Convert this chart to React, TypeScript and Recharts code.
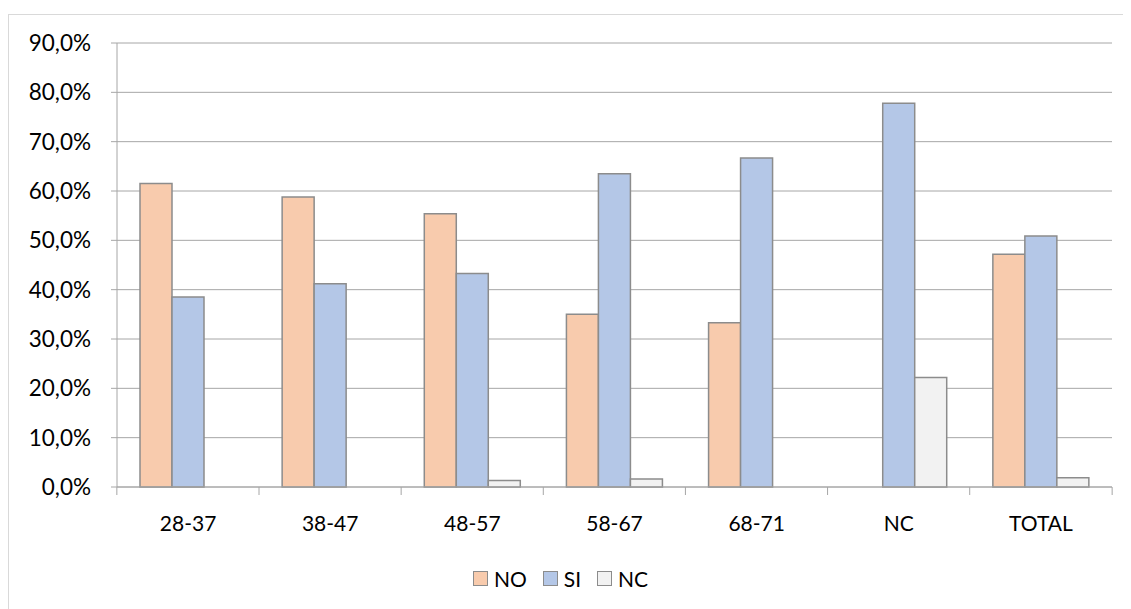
import { BarChart, Bar, XAxis, YAxis, CartesianGrid, Legend } from 'recharts'

const categories = ['28-37', '38-47', '48-57', '58-67', '68-71', 'NC', 'TOTAL']
const noValues = [61.5, 58.8, 55.4, 35.0, 33.3, 0, 47.2]
const siValues = [38.5, 41.2, 43.3, 63.5, 66.7, 77.8, 50.9]
const ncValues = [0, 0, 1.3, 1.6, 0, 22.2, 1.9]
const yTicks = [0, 10, 20, 30, 40, 50, 60, 70, 80, 90]

const series = [
  { key: 'NO', fill: '#F8CBAD' },
  { key: 'SI', fill: '#B4C7E7' },
  { key: 'NC', fill: '#F2F2F2' },
]

const data = categories.map((c, i) => ({
  name: c,
  NO: noValues[i],
  SI: siValues[i],
  NC: ncValues[i],
}))

const FONT = 'Lato, "Open Sans", sans-serif'
const CHART_W = 1122
const CHART_H = 596
const MARGIN = { top: 28, right: 17, left: 0, bottom: 10 }
const Y_W = 108
const BAND = (CHART_W - MARGIN.right - Y_W) / categories.length

const pct = (v: number) => v.toFixed(1).replace('.', ',') + '%'

function XTick(props: any) {
  const { x, y, payload, index } = props
  const left = x - BAND / 2
  return (
    <g>
      <line x1={left} y1={y - 8} x2={left} y2={y} stroke="#A6A6A6" />
      {index === categories.length - 1 && (
        <line x1={x + BAND / 2} y1={y - 8} x2={x + BAND / 2} y2={y} stroke="#A6A6A6" />
      )}
      <text x={x} y={y + 36} textAnchor="middle" fill="#000" fontSize={21} fontFamily={FONT}>
        {payload.value}
      </text>
    </g>
  )
}

function LegendBox() {
  return (
    <div style={{ height: 42, display: 'flex', justifyContent: 'center', alignItems: 'center', fontFamily: FONT, fontSize: 21, color: '#000' }}>
      {series.map((s) => (
        <span key={s.key} style={{ display: 'inline-flex', alignItems: 'center', margin: '0 8px' }}>
          <span style={{ width: 13, height: 13, background: s.fill, border: '1.5px solid #8C8C8C', marginRight: 6, display: 'inline-block' }} />
          {s.key}
        </span>
      ))}
    </div>
  )
}

export default function App() {
  return (
    <div style={{ marginTop: 6, width: CHART_W, height: CHART_H, border: '1px solid #D9D9D9', boxSizing: 'border-box', background: '#fff' }}>
      <BarChart width={CHART_W - 2} height={CHART_H - 2} data={data} margin={MARGIN} barGap={0} barSize={32}>
        <CartesianGrid vertical={false} stroke="#A6A6A6" />
        <XAxis
          dataKey="name"
          height={70}
          axisLine={{ stroke: '#A6A6A6' }}
          tickLine={false}
          tick={<XTick />}
          interval={0}
        />
        <YAxis
          width={Y_W}
          domain={[0, 90]}
          ticks={yTicks}
          tickFormatter={pct}
          axisLine={{ stroke: '#A6A6A6' }}
          tickLine={{ stroke: '#A6A6A6' }}
          tickSize={6}
          tickMargin={20}
          tick={{ fill: '#000', fontSize: 22.5, fontFamily: FONT }}
        />
        <Legend verticalAlign="bottom" content={<LegendBox />} />
        {series.map((s) => (
          <Bar key={s.key} dataKey={s.key} fill={s.fill} stroke="#8C8C8C" strokeWidth={1.5} isAnimationActive={false} />
        ))}
      </BarChart>
    </div>
  )
}
